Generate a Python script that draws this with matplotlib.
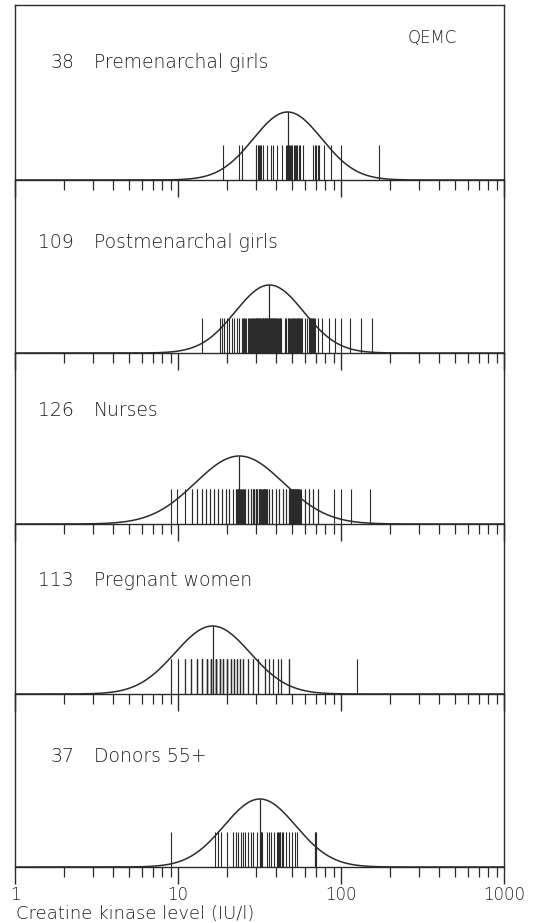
import numpy as np
import matplotlib.pyplot as plt

plt.rcParams['font.family'] = ['DejaVu Sans']

groups = ["Premenarchal girls", "Postmenarchal girls", "Nurses", "Pregnant women", "Donors 55+"]
counts = [38, 109, 126, 113, 37]

# fitted log-normal curves: geometric mean (IU/l) and SD of log10 values
means = [47.0, 36.4, 23.8, 16.3, 31.8]
sds = [0.21, 0.21, 0.27, 0.23, 0.22]

# individual CK values (duplicates overlap)
premenarchal = [19.0, 23.7, 24.7,
                30.2, 30.2, 30.8, 31.3, 31.8, 32.4,
                33.4, 35.0, 37.1, 38.3, 40.4, 43.2,
                45.7, 46.5, 47.3, 48.0, 48.8, 49.6, 50.4, 51.2, 52.1, 53.0, 54.0, 55.0, 55.9,
                58.5,
                67.8, 69.0, 70.5, 72.0, 73.1,
                78.2, 87.4, 100, 170]

postmenarchal = [14.1, 18.0, 18.6, 19.2, 19.9, 20.6, 21.4, 22.2, 23.0, 23.8,
                 24.6, 25.0, 25.4, 25.8, 26.3, 26.8, 27.3, 27.8,
                 28.2, 28.6, 29.0, 29.3, 29.7, 30.0, 30.4, 30.7, 31.0, 31.4,
                 31.7, 32.0, 32.4, 32.7, 33.0, 33.4, 33.7, 34.0, 34.4, 34.7,
                 35.0, 35.4, 35.7, 36.0, 36.4, 36.8, 37.2, 37.6, 38.0, 38.4,
                 38.8, 39.2, 39.6, 40.0, 40.5, 41.0, 41.5, 42.0, 42.5, 43.0,
                 29.0, 30.0, 31.0, 32.0, 33.0, 34.0, 35.0, 36.0, 37.0, 38.0, 40.0,
                 45.3, 46.0, 47.0, 47.6, 48.2, 48.8, 49.4, 50.0, 50.6, 51.2,
                 51.8, 52.4, 53.0, 53.6, 54.2, 54.8, 55.4, 56.0, 57.0, 58.0,
                 60.0, 62.0, 63.5, 64.1, 64.7, 65.3, 65.9, 66.5, 67.1, 67.7, 68.4, 69.2,
                 72.0, 76.0, 84.0, 92.0, 100, 113, 133, 155]

nurses = [9.0, 9.9, 11.0, 12.2, 13.1, 14.1, 14.9, 15.7, 16.6, 17.6, 18.6, 19.6, 20.6, 21.6,
          12.2, 13.1, 14.1, 14.9, 15.7, 16.6, 17.6, 18.6, 19.6, 20.6,
          22.6, 22.6, 23.2, 23.2, 23.8, 23.8, 24.4, 24.4, 25.0, 25.0, 25.6, 25.6,
          22.9, 23.5, 24.1, 24.7, 25.3,
          26.7, 26.7,
          28.2, 28.2, 28.8, 28.8, 29.4, 29.4, 30.0, 30.0, 30.6, 30.6, 31.2, 31.2, 31.8,
          31.8, 32.4, 32.4, 33.0, 33.0, 33.6, 33.6, 34.2, 34.2, 34.8, 34.8, 35.4, 35.4,
          29.1, 30.3, 31.5, 32.7, 33.9,
          36.2, 36.2, 37.9, 37.9, 39.8, 39.8, 41.7, 41.7, 43.8, 43.8, 45.9, 45.9,
          48.1, 48.1, 48.8, 48.8, 49.5, 49.5, 50.2, 50.2, 50.9, 50.9, 51.6, 51.6,
          52.3, 52.3, 53.0, 53.0, 53.8, 53.8, 54.6, 54.6, 55.4, 55.4, 56.0, 56.7,
          49.1, 50.5, 52.0, 53.4,
          60.0, 60.0, 63.8, 63.8, 66.9, 66.9, 71.8, 71.8,
          91, 100, 115, 150]

pregnant = [9, 9, 10, 10, 11, 11, 11, 12, 12, 12, 12,
            13, 13, 13, 13, 13, 14, 14, 14, 14, 14,
            15, 15, 15, 15, 15, 15, 15, 16, 16, 16, 16, 16, 16, 16, 16,
            17, 17, 17, 17, 17, 17, 17, 17, 17, 17,
            18, 18, 18, 18, 18, 18, 18, 19, 19, 19, 19, 19, 19,
            20, 20, 20, 20, 20, 20, 20, 21, 21, 21, 21, 21,
            22, 22, 22, 22, 22, 23, 23, 23, 23, 24, 24, 24, 24, 25, 25, 25, 25,
            27, 27, 27, 29, 29, 29, 31, 31, 31, 34, 34, 34,
            36, 36, 38, 38, 41, 41, 43, 43, 48, 48, 48, 48, 126]

donors = [9.0, 16.9, 17.7, 18.3, 19.9, 21.8, 22.6, 23.4, 24.2, 25.0, 25.8, 27.0,
          28.0, 29.0, 30.4, 32.4, 32.4, 32.8, 35.0, 36.0, 37.0, 38.8, 40.3,
          41.2, 41.8, 42.0, 42.5, 43.2, 43.9, 46.0, 48.0, 49.8, 52.0, 53.5,
          69.0, 69.0, 70.0]

values = [premenarchal, postmenarchal, nurses, pregnant, donors]

W, H = 556, 923
x0, x1 = 15, 504
top = 5
baselines = [180, 353, 524, 694, 867]
label_y = [62, 242, 410, 580, 757]
ink = '#2b2b2b'
txt = '#1e1e1e'

fig = plt.figure(figsize=(W / 100, H / 100), dpi=100)

prev = top
for i, vals in enumerate(values):
    b = baselines[i]
    ax = fig.add_axes([x0 / W, 1 - b / H, (x1 - x0) / W, (b - prev) / H])
    ax.patch.set_alpha(0)
    ax.set_xscale('log')
    ax.set_xlim(1, 1000)
    ax.set_ylim(0, b - prev)

    # individual values
    ax.vlines(vals, 0, 35, color=ink, lw=0.8)

    # fitted curve and its mean
    xs = np.logspace(0, 3, 800)
    ys = 68 * np.exp(-(np.log10(xs) - np.log10(means[i])) ** 2 / (2 * sds[i] ** 2))
    ax.plot(xs, ys, color=ink, lw=1.1)
    ax.vlines(means[i], 0, 68, color=ink, lw=0.9)

    for side in ['left', 'right', 'bottom', 'top']:
        ax.spines[side].set_color(ink)
        ax.spines[side].set_linewidth(1.0)
    ax.spines['top'].set_visible(i == 0)

    ax.set_yticks([])
    ax.set_xticks([1, 10, 100, 1000])
    ax.tick_params(axis='x', which='major', length=12.5, width=1.0, color=ink,
                   direction='out', pad=1)
    ax.tick_params(axis='x', which='minor', length=7.2, width=0.9, color=ink, direction='out')
    if i < 4:
        ax.tick_params(axis='x', labelbottom=False)
    else:
        ax.set_xticklabels(['1', '10', '100', '1000'], fontsize=12, color=txt,
                           fontweight='light')

    fig.text(74 / W, 1 - label_y[i] / H, str(counts[i]), ha='right', va='center',
             fontsize=13.5, color=txt, fontweight='light')
    fig.text(94 / W, 1 - label_y[i] / H, groups[i], ha='left', va='center',
             fontsize=13.5, color=txt, fontweight='light')
    prev = b

fig.text(432 / W, 1 - 38 / H, 'QEMC', ha='center', va='center', fontsize=12, color=txt,
         fontweight='light')
fig.text(16 / W, 1 - 914 / H, 'Creatine kinase level (IU/l)', ha='left', va='center',
         fontsize=13, color=txt, fontweight='light')

fig.savefig('out.png', dpi=100, facecolor='white')
